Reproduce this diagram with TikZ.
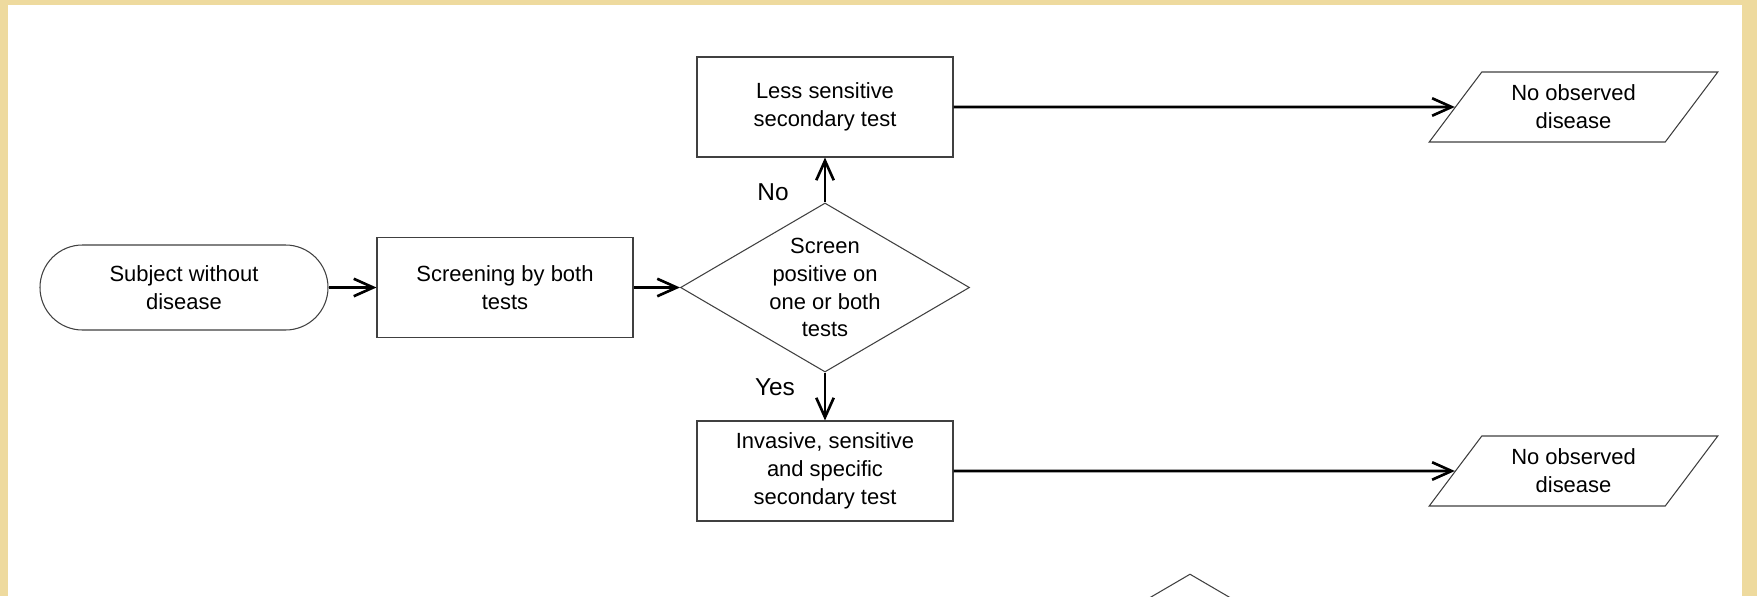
\documentclass[tikz,border=0pt]{standalone}
\usepackage{fontspec}
\setmainfont{Liberation Sans}
\usepackage{tikz}
\usetikzlibrary{arrows.meta,positioning,shapes.geometric,shapes.misc}
\definecolor{framebeige}{RGB}{238,218,158}
\tikzset{
    >={Straight Barb[length=3.9mm,width=3.5mm]},
    line/.style={draw, line width=1.5pt, ->},
    outline/.style={draw=black!75, line width=0.6pt, inner sep=0pt, align=center},
    font={\fontsize{12.5pt}{15.9pt}\selectfont},
}

\begin{document}
\begin{tikzpicture}
[
    termbox/.style={outline, rounded rectangle, minimum width=5.76cm, minimum height=1.7cm},
    procbox/.style={outline, rectangle, minimum width=5.12cm, minimum height=2cm},
    decbox/.style={outline, diamond, aspect=1.71, minimum width=5.78cm, minimum height=3.38cm},
    outbox/.style={outline, trapezium, trapezium left angle=51, trapezium right angle=129,
        trapezium stretches=true, minimum width=5.78cm, minimum height=1.4cm},
    answer/.style={font={\fontsize{13.9pt}{16pt}\selectfont}},
]
\useasboundingbox (0,0) rectangle (35.14,-11.92);
\clip (0,0) rectangle (35.14,-11.92);
\fill[framebeige] (0,0) rectangle (35.14,-11.92);
\fill[white] (0.16,-0.10) rectangle (34.84,-12);
\node(subject) at (3.68,-5.75) [termbox]{Subject without\\disease};
\node(screening) at (10.10,-5.75) [procbox]{Screening by both\\tests};
\node(positive) at (16.50,-5.75) [decbox]{Screen\\positive on\\one or both\\tests};
\node(lesstest) at (16.50,-2.14) [procbox]{Less sensitive\\secondary test};
\node(invtest) at (16.50,-9.42) [procbox]{Invasive, sensitive\\and specific\\secondary test};
\node(noobs1) at (31.47,-2.14) [outbox]{No observed\\disease};
\node(noobs2) at (31.47,-9.42) [outbox]{No observed\\disease};
\node(nextdec) at (23.80,-13.17) [decbox]{};
\node(nolbl) at (15.46,-3.84) [answer]{No};
\node(yeslbl) at (15.50,-7.74) [answer]{Yes};
\draw[line] (subject.east) -- (screening.west);
\draw[line] (screening.east) -- (positive.west);
\draw[line] (positive.north) -- (lesstest.south);
\draw[line] (positive.south) -- (invtest.north);
\draw[line] (lesstest.east) -- (noobs1);
\draw[line] (invtest.east) -- (noobs2);
\end{tikzpicture}
\end{document}
